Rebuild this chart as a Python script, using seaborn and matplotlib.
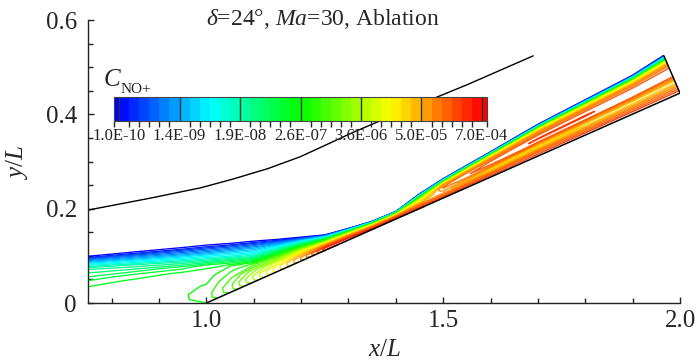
import numpy as np
import matplotlib

matplotlib.use("Agg")
import matplotlib.pyplot as plt
import seaborn as sns
from matplotlib.colors import BoundaryNorm, LinearSegmentedColormap, ListedColormap, Normalize
from matplotlib.ticker import MultipleLocator

sns.set_theme(style="ticks")
plt.rcParams["font.family"] = ["Liberation Serif", "DejaVu Serif"]
plt.rcParams["mathtext.fontset"] = "custom"
plt.rcParams["mathtext.rm"] = "Liberation Serif"
plt.rcParams["mathtext.it"] = "Liberation Serif:italic"

# stations along the body: lower point (axis / wall) and upper point (layer edge)
STATION_X_LOW = [0.75, 0.85, 0.95, 1.00, 1.05, 1.10, 1.15, 1.20, 1.25, 1.30,
                 1.35, 1.40, 1.45, 1.50, 1.60, 1.70, 1.80, 1.90, 2.00]
STATION_X_TOP = [0.75, 0.85, 0.95, 1.00, 1.05, 1.10, 1.15, 1.20, 1.25, 1.30,
                 1.35, 1.40, 1.45, 1.50, 1.60, 1.70, 1.80, 1.90, 1.966]
STATION_Y_LOW = [0.0, 0.0, 0.0, 0.0, 0.0223, 0.0445, 0.0668, 0.089, 0.111, 0.1335,
                 0.156, 0.178, 0.200, 0.2225, 0.267, 0.3115, 0.356, 0.4005, 0.445]
STATION_Y_TOP = [0.0976, 0.107, 0.116, 0.121, 0.125, 0.130, 0.134, 0.139, 0.144, 0.158,
                 0.173, 0.194, 0.231, 0.263, 0.320, 0.378, 0.430, 0.482, 0.524]

# fraction of the layer height, wall (0) to edge (1)
ETA = [0.0, 0.06, 0.15, 0.3, 0.45, 0.55, 0.65, 0.75, 0.84, 0.9, 0.95, 1.0, 1.12]

# contour level index (0 -> 1.0E-10 ... 36 -> 7.0E-04), one row per station
LEVEL_TABLE = [
    [17.5, 17.5, 17.45, 17.3, 16.45, 15.2, 14.05, 12.7, 9.0, 6.1, 3.5, 0.2, -1.5],
    [17.5, 17.5, 17.5, 17.45, 17.2, 16.4, 14.5, 12.3, 8.5, 5.5, 3.0, 0.2, -1.5],
    [17.6, 17.8, 17.85, 17.7, 17.4, 17.2, 15.5, 12.0, 8.0, 5.0, 2.8, 0.2, -1.5],
    [17.98, 18.5, 18.5, 18.1, 17.6, 17.3, 16.7, 12.0, 8.0, 5.0, 2.8, 0.2, -1.5],
    [20.05, 20.6, 20.7, 19.8, 18.8, 17.95, 14.5, 10.0, 7.0, 4.5, 2.5, 0.2, -1.5],
    [23.3, 24.05, 24.2, 22.5, 19.5, 15.5, 11.5, 8.5, 6.0, 4.05, 2.2, 0.2, -1.5],
    [27.05, 27.6, 27.6, 25.5, 21.5, 17.95, 14.05, 10.05, 7.05, 4.5, 2.4, 0.2, -1.5],
    [30.5, 31.05, 31.1, 29.05, 25.05, 21.05, 17.05, 12.5, 8.5, 5.5, 3.05, 0.2, -1.5],
    [34.05, 35.3, 35.4, 32.5, 28.05, 24.05, 19.5, 15.05, 10.5, 7.05, 3.8, 0.2, -1.5],
    [35.6, 35.5, 35.05, 33.05, 29.5, 26.05, 22.05, 17.05, 12.05, 8.05, 4.5, 0.2, -1.5],
    [35.5, 35.2, 34.5, 32.5, 29.5, 26.5, 23.05, 18.05, 12.5, 8.5, 4.5, 0.2, -1.5],
    [35.3, 35.05, 34.3, 32.5, 30.05, 27.05, 23.5, 18.5, 13.05, 9.05, 5.05, 0.2, -1.5],
    [35.05, 34.5, 33.5, 31.05, 28.05, 26.05, 24.05, 20.05, 15.05, 10.05, 5.05, 0.2, -1.5],
    [34.8, 34.05, 32.5, 30.5, 31.5, 32.2, 31.5, 28.05, 21.05, 14.05, 7.05, 0.2, -1.5],
    [34.6, 34.05, 32.5, 27.5, 32.5, 33.6, 32.8, 30.5, 26.05, 19.05, 10.05, 0.2, -1.5],
    [34.5, 34.05, 32.5, 27.5, 33.2, 34.1, 33.3, 31.2, 27.05, 19.05, 10.05, 0.2, -1.5],
    [34.5, 34.05, 32.05, 28.05, 33.4, 34.1, 33.5, 31.5, 27.05, 19.05, 10.05, 0.2, -1.5],
    [34.5, 34.05, 32.05, 28.05, 33.3, 33.6, 33.5, 31.5, 27.05, 19.05, 10.05, 0.2, -1.5],
    [34.5, 34.05, 32.05, 28.05, 33.3, 33.6, 33.4, 31.5, 27.05, 19.05, 10.05, 0.2, -1.5],
]
N_LEVELS = 36

SHOCK_X = [0.75, 0.88, 0.987, 1.057, 1.13, 1.198, 1.25, 1.308, 1.42, 1.551, 1.69]
SHOCK_Y = [0.197, 0.222, 0.244, 0.263, 0.285, 0.310, 0.334, 0.361, 0.409, 0.463, 0.524]

BODY_X = [1.0, 2.0, 1.966]
BODY_Y = [0.0, 0.445, 0.524]

CB_TICKS = [0, 6, 12, 18, 24, 30, 36]
CB_LABELS = ["1.0E-10", "1.4E-09", "1.9E-08", "2.6E-07", "3.6E-06", "5.0E-05", "7.0E-04"]

cmap = LinearSegmentedColormap.from_list(
    "small_rainbow", ["#0000ff", "#00ffff", "#00ff00", "#ffff00", "#ff0000"]
)

fig = plt.figure(figsize=(7.0, 3.62), dpi=100)
ax = fig.add_axes([88 / 700, 1 - 303 / 362, 592 / 700, 283 / 362])

eta = np.array(ETA)[:, None]
x_low, x_top = np.array(STATION_X_LOW), np.array(STATION_X_TOP)
y_low, y_top = np.array(STATION_Y_LOW), np.array(STATION_Y_TOP)
grid_x = x_low + eta * (x_top - x_low)
grid_y = y_low + eta * (y_top - y_low)
field = np.array(LEVEL_TABLE).T

ax.contour(
    grid_x, grid_y, field,
    levels=np.arange(0, N_LEVELS + 1),
    cmap=cmap, norm=Normalize(0, N_LEVELS),
    linewidths=0.95,
)

sns.lineplot(x=SHOCK_X, y=SHOCK_Y, ax=ax, color="black", linewidth=1.0, sort=False, estimator=None)
sns.lineplot(x=BODY_X, y=BODY_Y, ax=ax, color="black", linewidth=1.1, sort=False, estimator=None)

ax.set_xlim(0.75, 2.0)
ax.set_ylim(0.0, 0.6)
ax.set_xticks([1.0, 1.5, 2.0])
ax.set_xticklabels(["1.0", "1.5", "2.0"])
ax.set_yticks([0.0, 0.2, 0.4, 0.6])
ax.set_yticklabels(["0", "0.2", "0.4", "0.6"])
ax.xaxis.set_minor_locator(MultipleLocator(0.1))
ax.yaxis.set_minor_locator(MultipleLocator(0.05))
ax.tick_params(which="major", direction="in", length=4.5, width=1.0, labelsize=18, color="#222222")
ax.tick_params(axis="x", which="major", pad=5)
ax.tick_params(axis="y", which="major", pad=8)
ax.tick_params(which="minor", direction="in", length=3.5, width=1.0, color="#222222")
sns.despine(ax=ax)
for side in ["left", "bottom"]:
    ax.spines[side].set_linewidth(1.0)
    ax.spines[side].set_color("#222222")
ax.set_xlabel("")
ax.set_ylabel("")

fig.text(385 / 700, 1 - 350 / 362, "$x/L$", ha="center", va="center", fontsize=18)
fig.text(17 / 700, 1 - 163 / 362, "$y/L$", ha="center", va="center", fontsize=18, rotation=90)
fig.text(323 / 700, 1 - 19 / 362, r"$\delta$=24°, $Ma$=30, Ablation",
         ha="center", va="center", fontsize=17)

# legend bar
bounds = np.concatenate([[-0.5], np.arange(0, N_LEVELS + 1), [N_LEVELS + 0.5]])
band_colors = [cmap(0.0)] + [cmap((k + 0.5) / N_LEVELS) for k in range(N_LEVELS)] + [cmap(1.0)]
sm = plt.cm.ScalarMappable(norm=BoundaryNorm(bounds, len(band_colors)), cmap=ListedColormap(band_colors))
cax = fig.add_axes([114 / 700, 1 - 121 / 362, 373 / 700, 24 / 362])
cb = fig.colorbar(sm, cax=cax, orientation="horizontal", boundaries=bounds,
                  ticks=CB_TICKS, spacing="proportional")
cb.set_ticklabels(CB_LABELS)
cax.tick_params(length=0, labelsize=12, pad=5, colors="#222222")
for t in CB_TICKS:
    cax.axvline(t, color="#333333", linewidth=1.0)
cb.outline.set_linewidth(0.8)
cb.outline.set_edgecolor("#444444")

fig.text(103 / 700, 1 - 86 / 362, "$C$", ha="left", va="baseline", fontsize=18)
fig.text(121 / 700, 1 - 93 / 362, "NO+", ha="left", va="baseline", fontsize=11)

fig.savefig("out.png", dpi=100)
plt.close(fig)
